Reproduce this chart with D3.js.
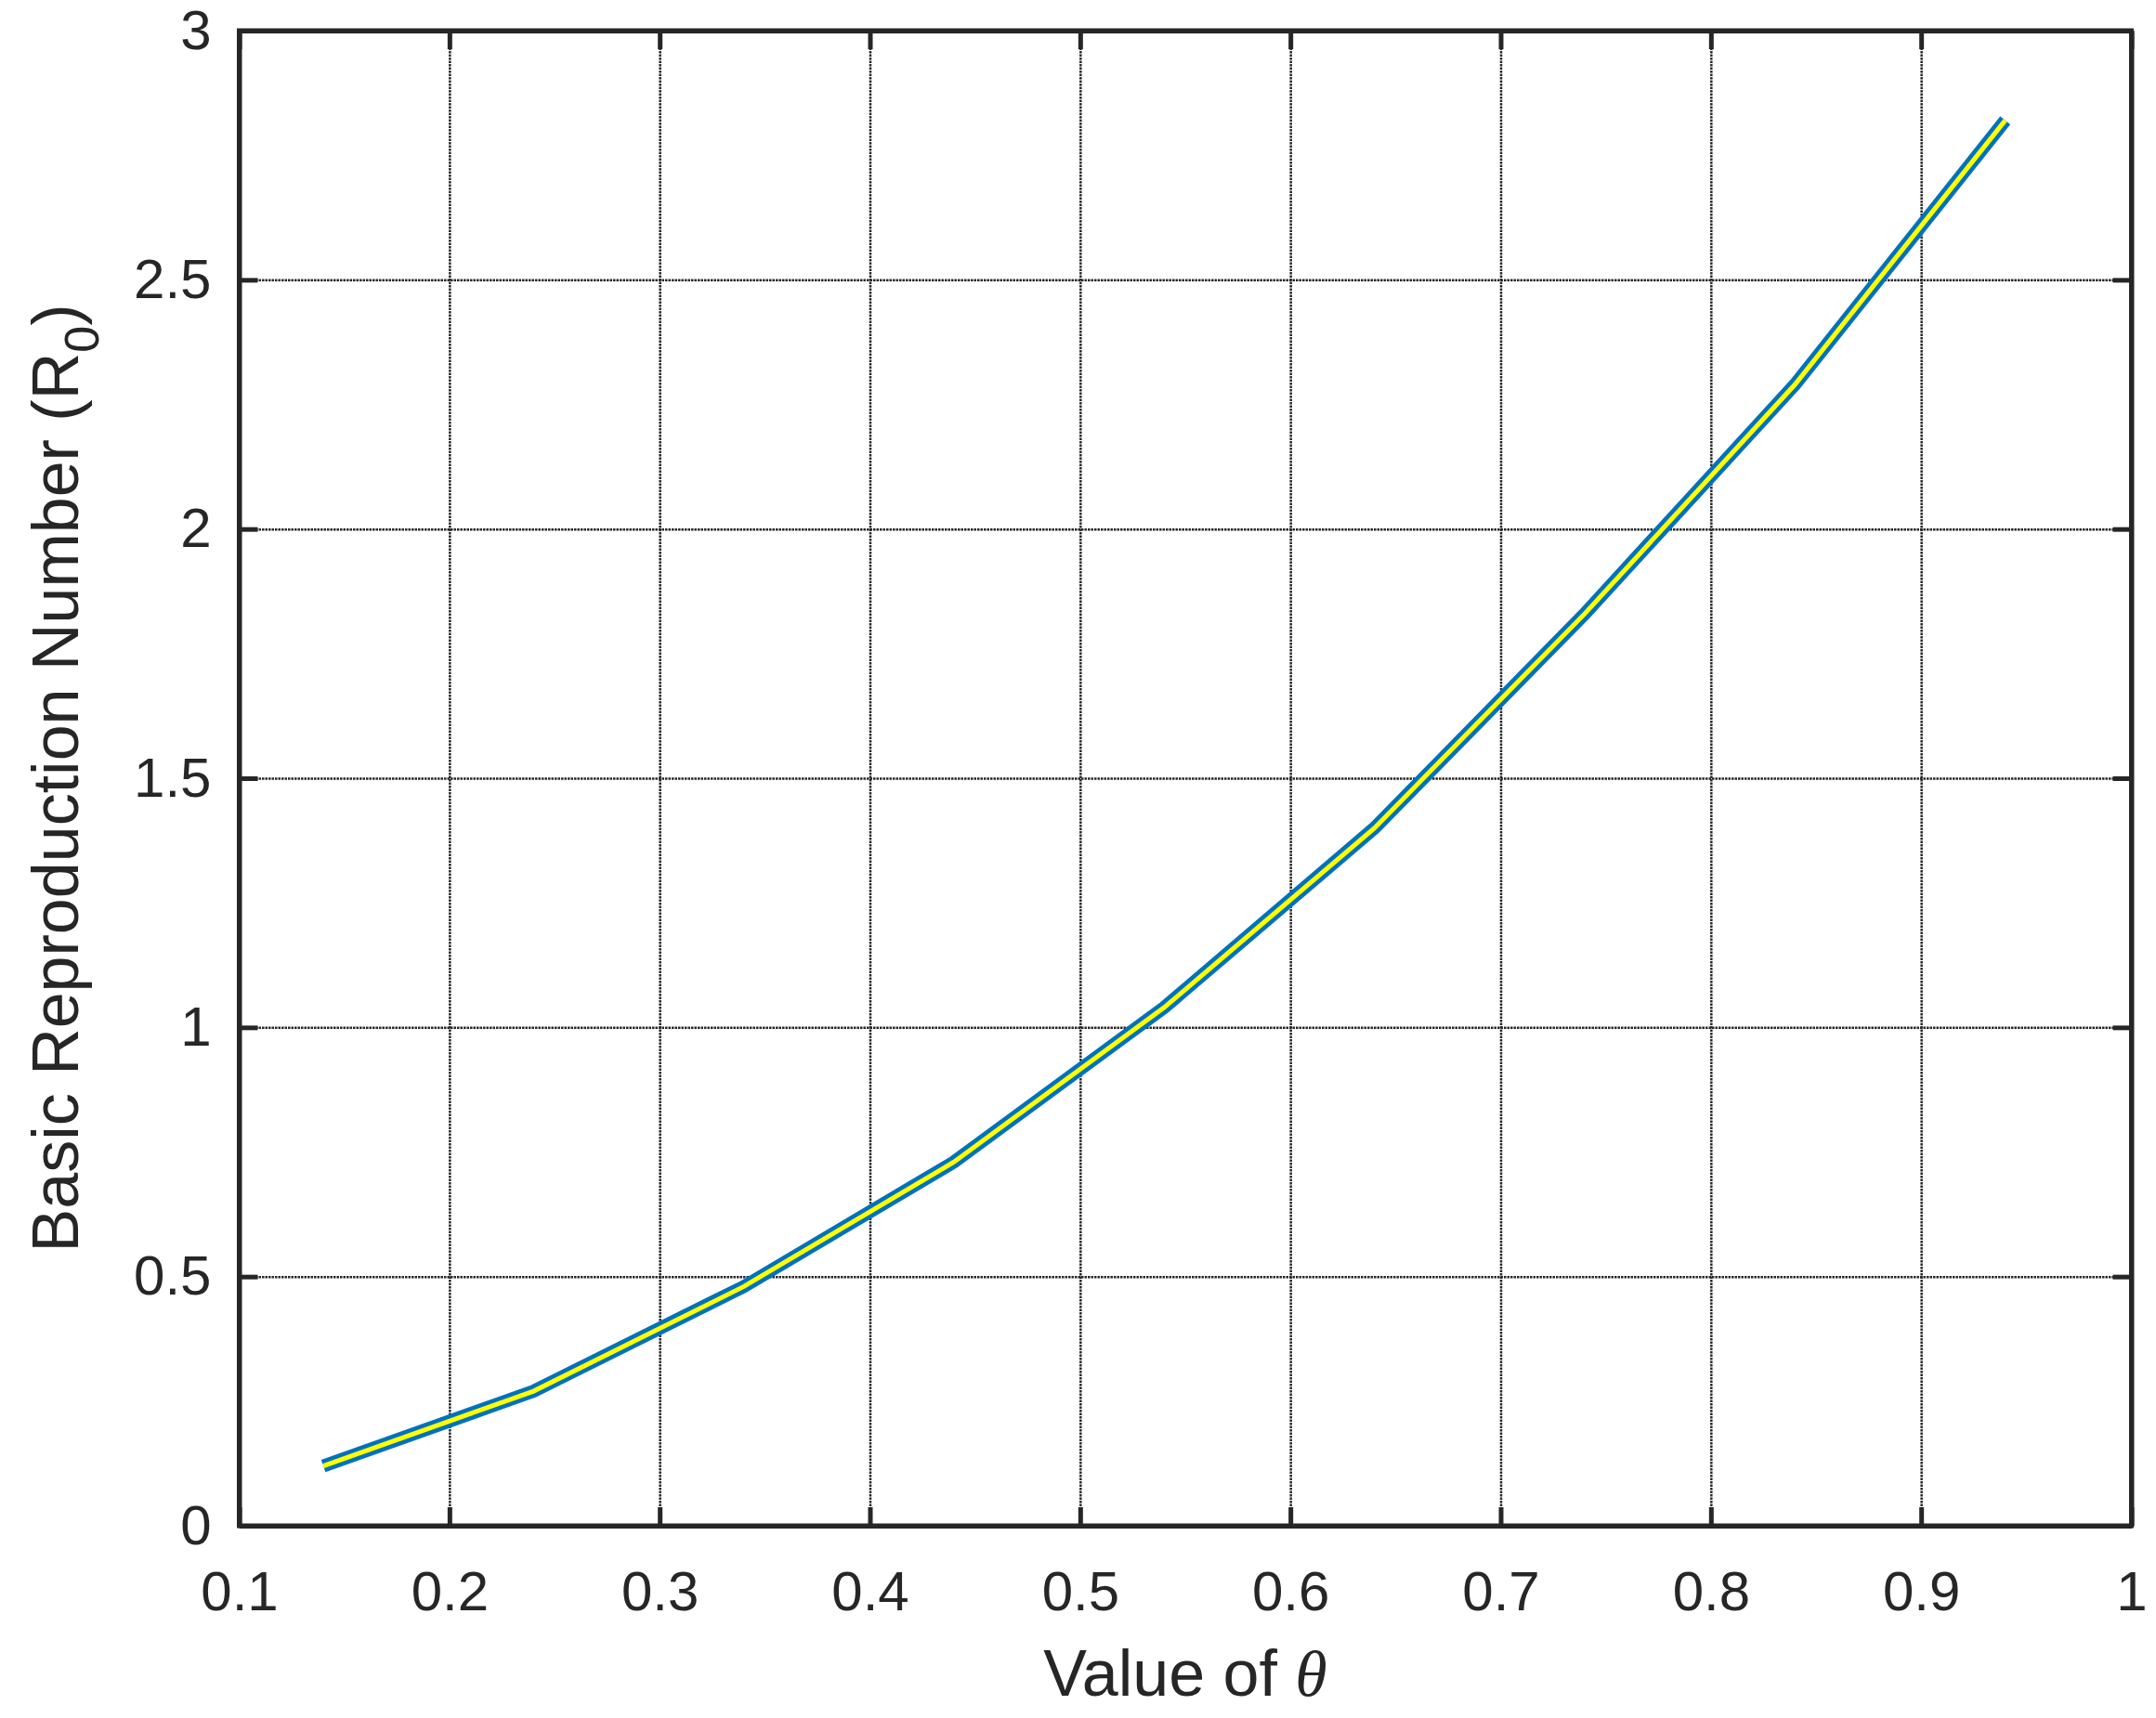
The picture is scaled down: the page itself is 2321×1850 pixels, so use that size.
<!DOCTYPE html>
<html>
<head>
<meta charset="utf-8">
<script src="https://cdn.jsdelivr.net/npm/d3@7/dist/d3.min.js"></script>
<style>
  html, body { margin: 0; padding: 0; background: #fff; }
  svg { display: block; }
</style>
</head>
<body>
<div id="chart"></div>
<script>
// values
const thetaValues = [0.14, 0.24, 0.34, 0.44, 0.54, 0.64, 0.74, 0.84, 0.94];
const r0Values = [0.12, 0.27, 0.48, 0.73, 1.04, 1.40, 1.83, 2.29, 2.82];
const xTicks = [0.1, 0.2, 0.3, 0.4, 0.5, 0.6, 0.7, 0.8, 0.9, 1];
const yTicks = [0, 0.5, 1, 1.5, 2, 2.5, 3];

(() => {
  const width = 2321, height = 1850;
  const margin = { top: 33, right: 26.5, bottom: 207, left: 257.5 };
  const innerW = width - margin.left - margin.right;
  const innerH = height - margin.top - margin.bottom;
  const ink = "#262626";
  const font = "'Liberation Sans', Arial, Helvetica, sans-serif";

  const svg = d3.select("#chart")
    .append("svg")
    .attr("width", width)
    .attr("height", height);

  const g = svg.append("g")
    .attr("transform", `translate(${margin.left},${margin.top})`);

  const x = d3.scaleLinear().domain([0.1, 1]).range([0, innerW]);
  const y = d3.scaleLinear().domain([0, 3]).range([innerH, 0]);
  const fmt = d3.format("~g");

  // grid (dotted)
  const styleGrid = s => {
    s.select(".domain").remove();
    s.selectAll("line")
      .attr("stroke", ink)
      .attr("stroke-width", 2.5)
      .attr("stroke-dasharray", "2.5,1");
  };
  g.append("g")
    .attr("transform", `translate(0,${innerH})`)
    .call(d3.axisBottom(x).tickValues(xTicks).tickSize(-innerH).tickFormat(""))
    .call(styleGrid);
  g.append("g")
    .call(d3.axisLeft(y).tickValues(yTicks).tickSize(-innerW).tickFormat(""))
    .call(styleGrid);

  // curve: blue with yellow core
  const pts = thetaValues.map((t, i) => [t, r0Values[i]]);
  const line = d3.line().x(d => x(d[0])).y(d => y(d[1]));
  g.append("path")
    .datum(pts)
    .attr("d", line)
    .attr("fill", "none")
    .attr("stroke", "#0072BD")
    .attr("stroke-width", 14)
    .attr("stroke-linejoin", "miter");
  g.append("path")
    .datum(pts)
    .attr("d", line)
    .attr("fill", "none")
    .attr("stroke", "#FFFF00")
    .attr("stroke-width", 5)
    .attr("stroke-linejoin", "miter");

  // axes with inward ticks
  const styleAxis = s => {
    s.select(".domain").attr("stroke", ink).attr("stroke-width", 5);
    s.selectAll(".tick line").attr("stroke", ink).attr("stroke-width", 5);
    s.selectAll("text")
      .attr("fill", ink)
      .style("font-family", font)
      .style("font-size", "60px");
  };

  g.append("g")
    .attr("transform", `translate(0,${innerH})`)
    .call(d3.axisBottom(x).tickValues(xTicks).tickSizeInner(-20).tickSizeOuter(0).tickFormat(fmt))
    .call(styleAxis)
    .call(s => s.selectAll("text").attr("y", 91).attr("dy", null));

  g.append("g")
    .call(d3.axisLeft(y).tickValues(yTicks).tickSizeInner(-20).tickSizeOuter(0).tickPadding(30).tickFormat(fmt))
    .call(styleAxis);

  g.append("g")
    .call(d3.axisTop(x).tickValues(xTicks).tickSizeInner(-20).tickSizeOuter(0).tickFormat(""))
    .call(styleAxis);

  g.append("g")
    .attr("transform", `translate(${innerW},0)`)
    .call(d3.axisRight(y).tickValues(yTicks).tickSizeInner(-20).tickSizeOuter(0).tickFormat(""))
    .call(styleAxis);

  // box corners
  g.append("rect")
    .attr("width", innerW)
    .attr("height", innerH)
    .attr("fill", "none")
    .attr("stroke", ink)
    .attr("stroke-width", 5);

  // labels
  const xl = g.append("text")
    .attr("x", innerW / 2)
    .attr("y", 1826 - margin.top)
    .attr("text-anchor", "middle")
    .attr("fill", ink)
    .style("font-family", font)
    .style("font-size", "70px");
  xl.append("tspan").text("Value of ");
  xl.append("tspan")
    .style("font-family", "'Liberation Serif', 'Times New Roman', serif")
    .style("font-style", "italic")
    .text("θ");

  const yl = svg.append("text")
    .attr("transform", `translate(84,${margin.top + innerH / 2}) rotate(-90)`)
    .attr("text-anchor", "middle")
    .attr("fill", ink)
    .style("font-family", font)
    .style("font-size", "70px");
  yl.append("tspan").text("Basic Reproduction Number (R");
  yl.append("tspan").attr("dy", 22).style("font-size", "52px").text("0");
  yl.append("tspan").attr("dy", -22).text(")");
})();
</script>
</body>
</html>
